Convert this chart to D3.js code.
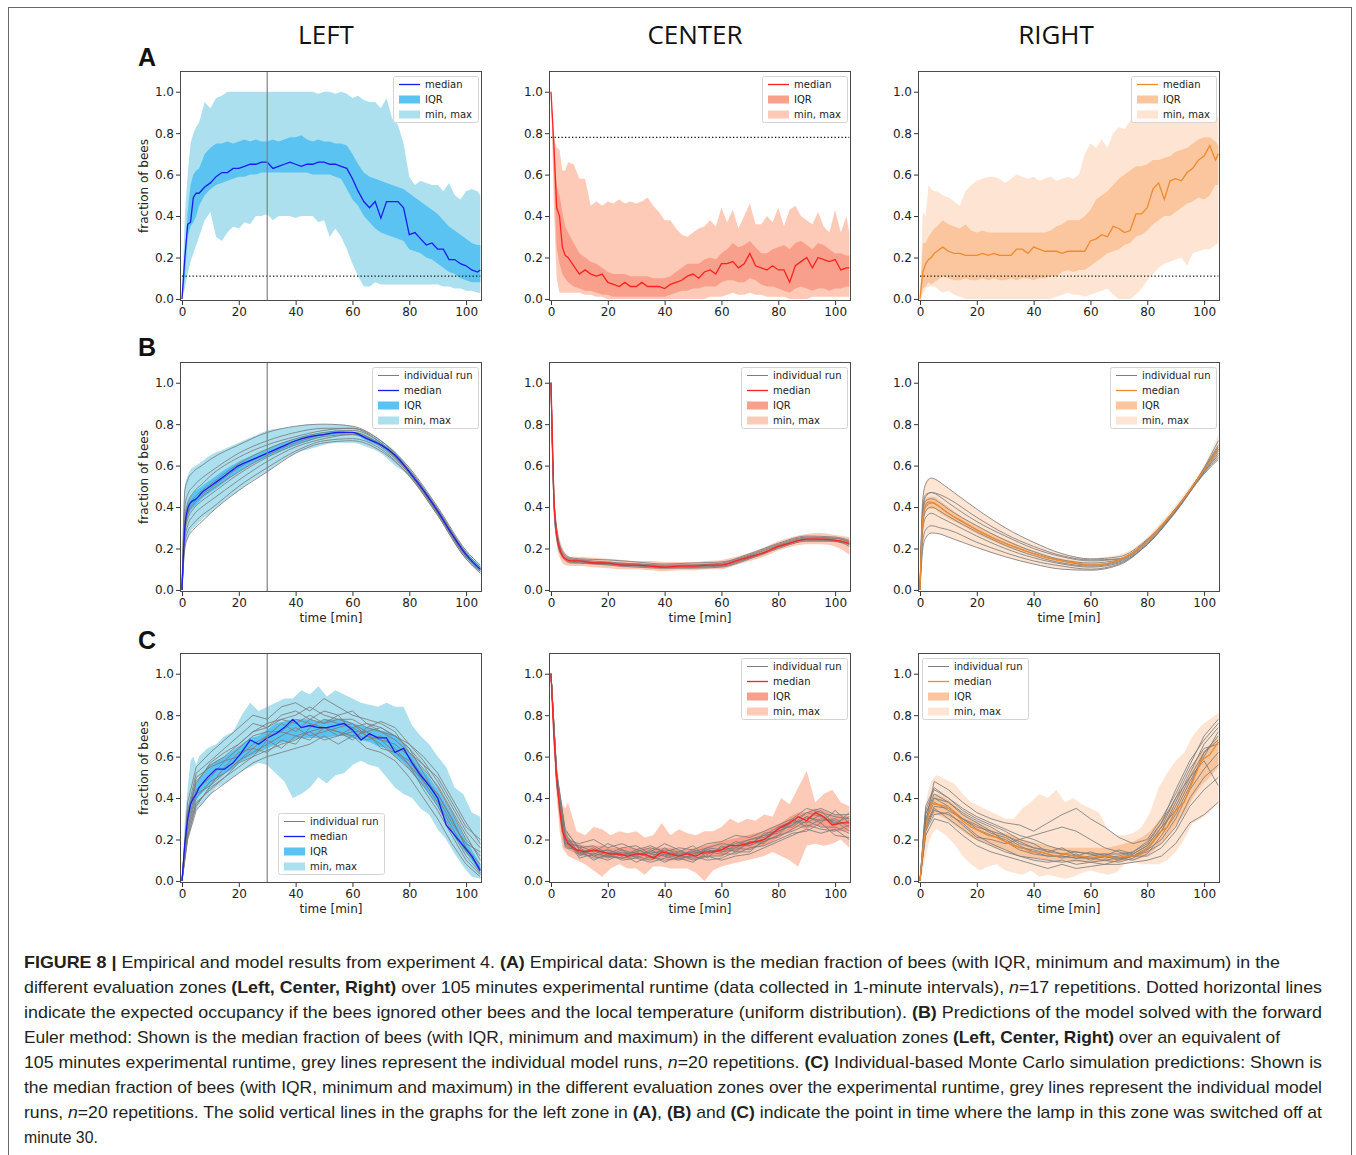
<!DOCTYPE html>
<html>
<head>
<meta charset="utf-8">
<script src="https://cdn.jsdelivr.net/npm/d3@7"></script>
<style>
  body { margin: 0; background: #fff; }
  svg text { font-family: "DejaVu Sans", sans-serif; }
</style>
</head>
<body>
<div id="fig"></div>
<script>
// ---- time grids (minutes) ----
var TA = [0, 1, 2, 3, 4, 5, 6,
  8, 10, 12, 14, 16, 18, 20, 22, 24, 26,
  28, 30, 32, 34, 36, 38, 40, 42, 44, 46,
  48, 50, 52, 54, 56, 58, 60, 62, 64, 66,
  68, 70, 72, 74, 76, 78, 80, 82, 84, 86,
  88, 90, 92, 94, 96, 98, 100, 102, 104, 105];
var TB = [0, 1, 2, 3, 5, 7, 10, 15, 20, 25, 30, 35, 40, 45, 50, 55, 60,
  65, 70, 75, 80, 85, 90, 95, 100, 105];
var TBr = [0, 1, 2, 4, 7, 10, 20, 30, 40, 50, 60, 70, 80, 90, 100, 105];
var TC = [0, 1, 2, 3, 4, 5, 6,
  9, 12, 15, 18, 21, 24, 27, 30, 33, 36,
  39, 42, 45, 48, 51, 54, 57, 60, 63, 66,
  69, 72, 75, 78, 81, 84, 87, 90, 93, 96,
  99, 102, 105];
var TCr = [0, 2, 5, 10, 15, 20, 25, 30, 35, 40, 45, 50, 55, 60, 65, 70, 75, 80, 85, 90, 95, 100, 105];

// ---- A: empirical data ----
var aLeftMed = [0, 0.20, 0.36, 0.37, 0.49, 0.51, 0.51,
  0.54, 0.56, 0.59, 0.61, 0.61, 0.63, 0.63, 0.64, 0.65, 0.65,
  0.66, 0.66, 0.63, 0.64, 0.65, 0.66, 0.65, 0.64, 0.65, 0.65,
  0.66, 0.66, 0.65, 0.65, 0.64, 0.63, 0.58, 0.52, 0.47, 0.44,
  0.47, 0.39, 0.47, 0.47, 0.47, 0.44, 0.31, 0.32, 0.29, 0.26,
  0.27, 0.24, 0.24, 0.19, 0.19, 0.17, 0.16, 0.14, 0.13, 0.14];
var aLeftQ3 = [0, 0.20, 0.42, 0.55, 0.60, 0.62, 0.63,
  0.70, 0.73, 0.75, 0.75, 0.76, 0.75, 0.76, 0.77, 0.76, 0.77,
  0.76, 0.76, 0.77, 0.76, 0.77, 0.78, 0.78, 0.79, 0.77, 0.76,
  0.77, 0.76, 0.76, 0.75, 0.75, 0.74, 0.70, 0.65, 0.61, 0.59,
  0.58, 0.57, 0.56, 0.55, 0.54, 0.53, 0.51, 0.49, 0.47, 0.45,
  0.43, 0.41, 0.38, 0.35, 0.33, 0.31, 0.29, 0.27, 0.26, 0.26];
var aLeftQ1 = [0, 0.10, 0.30, 0.35, 0.37, 0.40, 0.45,
  0.50, 0.53, 0.55, 0.56, 0.57, 0.58, 0.59, 0.59, 0.60, 0.60,
  0.61, 0.61, 0.61, 0.61, 0.61, 0.61, 0.61, 0.61, 0.61, 0.60,
  0.60, 0.60, 0.60, 0.59, 0.58, 0.53, 0.48, 0.45, 0.40, 0.37,
  0.34, 0.32, 0.31, 0.30, 0.29, 0.28, 0.24, 0.23, 0.22, 0.20,
  0.19, 0.17, 0.15, 0.13, 0.12, 0.10, 0.09, 0.08, 0.08, 0.08];
var aLeftMax = [0, 0.40, 0.60, 0.75, 0.80, 0.83, 0.85,
  0.95, 0.92, 0.97, 0.98, 1.0, 1.0, 1.0, 1.0, 1.0, 1.0,
  1.0, 1.0, 1.0, 1.0, 1.0, 1.0, 1.0, 1.0, 1.0, 1.0,
  0.99, 1.0, 1.0, 0.99, 1.0, 0.99, 0.97, 0.98, 0.96, 0.95,
  0.95, 0.92, 0.97, 0.87, 0.84, 0.75, 0.59, 0.55, 0.57, 0.56,
  0.55, 0.55, 0.52, 0.56, 0.50, 0.48, 0.52, 0.53, 0.52, 0.50];
var aLeftMin = [0, 0.05, 0.12, 0.18, 0.22, 0.26, 0.30,
  0.38, 0.42, 0.30, 0.28, 0.32, 0.35, 0.34, 0.37, 0.36, 0.40,
  0.40, 0.41, 0.38, 0.40, 0.40, 0.40, 0.39, 0.40, 0.40, 0.40,
  0.37, 0.38, 0.30, 0.34, 0.30, 0.24, 0.17, 0.11, 0.06, 0.06,
  0.08, 0.07, 0.07, 0.07, 0.07, 0.07, 0.07, 0.07, 0.07, 0.07,
  0.07, 0.07, 0.06, 0.06, 0.05, 0.05, 0.04, 0.04, 0.03, 0.03];

var aCenterMed = [1.0, 0.75, 0.44, 0.40, 0.25, 0.21, 0.20,
  0.16, 0.12, 0.14, 0.12, 0.11, 0.12, 0.08, 0.07, 0.06, 0.08,
  0.06, 0.06, 0.08, 0.06, 0.06, 0.06, 0.05, 0.07, 0.08, 0.09,
  0.11, 0.12, 0.10, 0.13, 0.14, 0.12, 0.17, 0.17, 0.18, 0.15,
  0.17, 0.22, 0.16, 0.15, 0.14, 0.16, 0.14, 0.14, 0.08, 0.16,
  0.18, 0.20, 0.15, 0.20, 0.19, 0.18, 0.19, 0.14, 0.15, 0.15];
var aCenterQ3 = [1.0, 0.75, 0.55, 0.50, 0.42, 0.35, 0.32,
  0.27, 0.22, 0.20, 0.18, 0.17, 0.15, 0.13, 0.12, 0.12, 0.12,
  0.11, 0.11, 0.11, 0.11, 0.10, 0.10, 0.10, 0.11, 0.13, 0.15,
  0.17, 0.17, 0.17, 0.19, 0.20, 0.19, 0.22, 0.24, 0.27, 0.25,
  0.26, 0.28, 0.25, 0.22, 0.22, 0.24, 0.25, 0.26, 0.24, 0.27,
  0.28, 0.26, 0.24, 0.27, 0.26, 0.24, 0.22, 0.22, 0.21, 0.21];
var aCenterQ1 = [1.0, 0.60, 0.25, 0.17, 0.12, 0.10, 0.08,
  0.06, 0.05, 0.04, 0.04, 0.03, 0.02, 0.02, 0.01, 0.01, 0.01,
  0.01, 0.01, 0.01, 0.01, 0.01, 0.01, 0.01, 0.02, 0.03, 0.04,
  0.04, 0.05, 0.05, 0.06, 0.06, 0.06, 0.08, 0.09, 0.09, 0.08,
  0.08, 0.10, 0.09, 0.07, 0.06, 0.06, 0.05, 0.04, 0.03, 0.05,
  0.06, 0.05, 0.04, 0.05, 0.05, 0.04, 0.05, 0.05, 0.06, 0.06];
var aCenterMax = [1.0, 0.78, 0.73, 0.72, 0.62, 0.62, 0.66,
  0.65, 0.58, 0.58, 0.45, 0.47, 0.45, 0.47, 0.46, 0.48, 0.46,
  0.47, 0.46, 0.47, 0.49, 0.45, 0.42, 0.38, 0.38, 0.34, 0.31,
  0.30, 0.32, 0.34, 0.35, 0.38, 0.35, 0.44, 0.37, 0.43, 0.34,
  0.40, 0.46, 0.36, 0.36, 0.40, 0.37, 0.44, 0.35, 0.43, 0.45,
  0.40, 0.38, 0.36, 0.42, 0.35, 0.32, 0.43, 0.32, 0.40, 0.32];
var aCenterMin = [1.0, 0.45, 0.10, 0.03, 0.03, 0.03, 0.03,
  0.03, 0.03, 0.02, 0.02, 0.01, 0.01, 0.00, 0.00, 0.00, 0.00,
  0.00, 0.00, 0.00, 0.00, 0.00, 0.00, 0.00, 0.00, 0.00, 0.00,
  0.00, 0.00, 0.00, 0.00, 0.01, 0.01, 0.01, 0.02, 0.03, 0.02,
  0.02, 0.03, 0.02, 0.02, 0.01, 0.01, 0.01, 0.01, 0.00, 0.00,
  0.00, 0.00, 0.01, 0.01, 0.01, 0.01, 0.01, 0.01, 0.01, 0.01];

var aRightMed = [0, 0.13, 0.17, 0.19, 0.20, 0.22, 0.23,
  0.25, 0.23, 0.22, 0.22, 0.21, 0.21, 0.21, 0.22, 0.21, 0.22,
  0.21, 0.21, 0.21, 0.24, 0.24, 0.22, 0.25, 0.24, 0.23, 0.23,
  0.23, 0.22, 0.23, 0.23, 0.23, 0.23, 0.28, 0.29, 0.31, 0.30,
  0.35, 0.34, 0.32, 0.33, 0.41, 0.41, 0.44, 0.53, 0.56, 0.48,
  0.57, 0.58, 0.57, 0.61, 0.63, 0.67, 0.69, 0.74, 0.67, 0.70];
var aRightQ3 = [0, 0.27, 0.27, 0.30, 0.32, 0.34, 0.35,
  0.38, 0.36, 0.35, 0.34, 0.36, 0.33, 0.32, 0.33, 0.32, 0.32,
  0.32, 0.32, 0.32, 0.32, 0.32, 0.32, 0.32, 0.32, 0.32, 0.33,
  0.35, 0.36, 0.38, 0.38, 0.38, 0.40, 0.43, 0.48, 0.50, 0.52,
  0.55, 0.58, 0.60, 0.62, 0.64, 0.64, 0.65, 0.67, 0.67, 0.68,
  0.69, 0.71, 0.72, 0.73, 0.75, 0.77, 0.78, 0.78, 0.76, 0.74];
var aRightQ1 = [0, 0.05, 0.06, 0.08, 0.07, 0.08, 0.09,
  0.11, 0.10, 0.09, 0.09, 0.10, 0.09, 0.09, 0.10, 0.09, 0.10,
  0.09, 0.09, 0.10, 0.09, 0.10, 0.10, 0.09, 0.10, 0.10, 0.11,
  0.11, 0.13, 0.14, 0.13, 0.14, 0.14, 0.16, 0.18, 0.20, 0.22,
  0.23, 0.24, 0.26, 0.27, 0.30, 0.31, 0.33, 0.36, 0.38, 0.40,
  0.40, 0.42, 0.44, 0.46, 0.47, 0.49, 0.48, 0.50, 0.55, 0.55];
var aRightMax = [0, 0.42, 0.40, 0.55, 0.53, 0.52, 0.52,
  0.50, 0.49, 0.47, 0.45, 0.52, 0.55, 0.57, 0.58, 0.59, 0.59,
  0.58, 0.56, 0.58, 0.60, 0.59, 0.58, 0.59, 0.57, 0.58, 0.59,
  0.57, 0.58, 0.59, 0.58, 0.60, 0.70, 0.75, 0.73, 0.77, 0.73,
  0.80, 0.83, 0.82, 0.86, 0.88, 0.90, 0.93, 0.92, 0.95, 0.94,
  0.93, 0.94, 0.92, 0.92, 0.90, 0.90, 0.88, 0.90, 0.87, 0.88];
var aRightMin = [0, 0.02, 0.05, 0.06, 0.06, 0.06, 0.05,
  0.03, 0.04, 0.02, 0.01, 0.00, 0.00, 0.00, 0.00, 0.00, 0.00,
  0.00, 0.00, 0.00, 0.00, 0.00, 0.00, 0.00, 0.00, 0.00, 0.00,
  0.01, 0.02, 0.03, 0.02, 0.02, 0.01, 0.02, 0.03, 0.04, 0.05,
  0.02, 0.00, 0.00, 0.00, 0.02, 0.05, 0.09, 0.12, 0.15, 0.17,
  0.18, 0.19, 0.20, 0.16, 0.22, 0.23, 0.24, 0.24, 0.26, 0.27];

// uniform-distribution expectation (dotted lines)
var expectedShare = [0.11, 0.78, 0.11];

// ---- B: forward Euler model ----
var bLeftMed = [0, 0.30, 0.39, 0.42, 0.44, 0.47, 0.50, 0.55, 0.60, 0.63, 0.66, 0.69, 0.72, 0.74, 0.75, 0.76, 0.76,
  0.73, 0.70, 0.65, 0.57, 0.48, 0.38, 0.27, 0.17, 0.10];
var bLeftQ3 = [0, 0.33, 0.42, 0.45, 0.48, 0.50, 0.53, 0.58, 0.62, 0.65, 0.68, 0.71, 0.73, 0.75, 0.76, 0.77, 0.76,
  0.74, 0.71, 0.66, 0.58, 0.49, 0.39, 0.28, 0.18, 0.11];
var bLeftQ1 = [0, 0.26, 0.35, 0.38, 0.41, 0.44, 0.47, 0.52, 0.57, 0.61, 0.64, 0.67, 0.70, 0.72, 0.74, 0.75, 0.75,
  0.72, 0.69, 0.64, 0.56, 0.47, 0.37, 0.26, 0.16, 0.09];
var bLeftMax = [0, 0.50, 0.55, 0.58, 0.60, 0.62, 0.65, 0.68, 0.71, 0.74, 0.77, 0.78, 0.79, 0.80, 0.80, 0.80, 0.79,
  0.76, 0.72, 0.67, 0.59, 0.50, 0.40, 0.29, 0.19, 0.12];
var bLeftMin = [0, 0.20, 0.25, 0.28, 0.31, 0.34, 0.37, 0.43, 0.48, 0.53, 0.57, 0.62, 0.66, 0.68, 0.70, 0.71, 0.71,
  0.69, 0.66, 0.60, 0.55, 0.46, 0.36, 0.25, 0.15, 0.08];
var bLeftRuns = [
  [0, 0.48, 0.53, 0.57, 0.60, 0.63, 0.70, 0.76, 0.79, 0.80, 0.79, 0.72, 0.59, 0.40, 0.19, 0.12],
  [0, 0.40, 0.46, 0.50, 0.54, 0.57, 0.66, 0.72, 0.76, 0.78, 0.78, 0.71, 0.58, 0.39, 0.18, 0.11],
  [0, 0.35, 0.42, 0.47, 0.51, 0.55, 0.64, 0.70, 0.74, 0.77, 0.78, 0.72, 0.58, 0.39, 0.18, 0.11],
  [0, 0.33, 0.40, 0.44, 0.48, 0.51, 0.61, 0.68, 0.73, 0.76, 0.77, 0.71, 0.57, 0.38, 0.17, 0.10],
  [0, 0.30, 0.37, 0.42, 0.46, 0.49, 0.59, 0.66, 0.72, 0.75, 0.76, 0.70, 0.57, 0.38, 0.17, 0.10],
  [0, 0.28, 0.36, 0.41, 0.45, 0.48, 0.57, 0.65, 0.71, 0.75, 0.76, 0.70, 0.57, 0.37, 0.17, 0.10],
  [0, 0.27, 0.34, 0.39, 0.43, 0.46, 0.56, 0.64, 0.70, 0.74, 0.75, 0.70, 0.56, 0.37, 0.16, 0.10],
  [0, 0.25, 0.31, 0.36, 0.40, 0.43, 0.53, 0.62, 0.69, 0.73, 0.75, 0.69, 0.56, 0.37, 0.16, 0.09],
  [0, 0.22, 0.28, 0.32, 0.36, 0.39, 0.50, 0.59, 0.67, 0.72, 0.73, 0.68, 0.55, 0.36, 0.15, 0.09],
  [0, 0.20, 0.25, 0.29, 0.33, 0.37, 0.48, 0.57, 0.66, 0.71, 0.72, 0.67, 0.55, 0.36, 0.15, 0.08]
];

var bCenterMed = [1.0, 0.45, 0.27, 0.20, 0.15, 0.14, 0.14, 0.13, 0.13, 0.12, 0.12, 0.115, 0.11, 0.115, 0.115, 0.12, 0.12,
  0.14, 0.16, 0.18, 0.21, 0.23, 0.245, 0.245, 0.24, 0.225];
var bCenterQ3 = [1.0, 0.47, 0.29, 0.22, 0.16, 0.15, 0.15, 0.14, 0.135, 0.13, 0.13, 0.125, 0.12, 0.125, 0.125, 0.13, 0.13,
  0.15, 0.17, 0.19, 0.22, 0.24, 0.255, 0.255, 0.25, 0.235];
var bCenterQ1 = [1.0, 0.43, 0.25, 0.18, 0.14, 0.13, 0.13, 0.12, 0.12, 0.11, 0.11, 0.105, 0.10, 0.105, 0.105, 0.11, 0.11,
  0.13, 0.15, 0.17, 0.20, 0.22, 0.235, 0.235, 0.23, 0.215];
var bCenterMax = [1.0, 0.50, 0.32, 0.25, 0.18, 0.16, 0.16, 0.155, 0.15, 0.145, 0.14, 0.14, 0.135, 0.135, 0.135, 0.14, 0.145,
  0.16, 0.18, 0.205, 0.235, 0.255, 0.27, 0.275, 0.265, 0.255];
var bCenterMin = [1.0, 0.40, 0.22, 0.16, 0.12, 0.115, 0.115, 0.11, 0.105, 0.10, 0.10, 0.095, 0.09, 0.095, 0.095, 0.10, 0.10,
  0.12, 0.14, 0.16, 0.19, 0.21, 0.22, 0.22, 0.21, 0.17];
var bCenterRuns = [
  [1.0, 0.48, 0.30, 0.19, 0.155, 0.15, 0.145, 0.135, 0.125, 0.13, 0.135, 0.175, 0.225, 0.26, 0.255, 0.24],
  [1.0, 0.46, 0.28, 0.18, 0.15, 0.145, 0.135, 0.125, 0.115, 0.12, 0.125, 0.165, 0.215, 0.25, 0.25, 0.235],
  [1.0, 0.44, 0.26, 0.17, 0.14, 0.135, 0.125, 0.12, 0.11, 0.11, 0.12, 0.155, 0.205, 0.24, 0.24, 0.22],
  [1.0, 0.42, 0.25, 0.16, 0.13, 0.13, 0.12, 0.11, 0.105, 0.105, 0.11, 0.15, 0.20, 0.235, 0.235, 0.21],
  [1.0, 0.47, 0.29, 0.18, 0.145, 0.14, 0.13, 0.125, 0.12, 0.12, 0.13, 0.17, 0.22, 0.255, 0.25, 0.23],
  [1.0, 0.43, 0.25, 0.165, 0.135, 0.13, 0.125, 0.115, 0.11, 0.11, 0.115, 0.155, 0.21, 0.245, 0.235, 0.22]
];

var bRightMed = [0, 0.35, 0.41, 0.425, 0.42, 0.40, 0.37, 0.33, 0.29, 0.255, 0.225, 0.20, 0.175, 0.155, 0.14, 0.13, 0.12,
  0.125, 0.145, 0.18, 0.235, 0.31, 0.39, 0.48, 0.58, 0.68];
var bRightQ3 = [0, 0.38, 0.44, 0.45, 0.45, 0.43, 0.40, 0.35, 0.31, 0.275, 0.245, 0.215, 0.19, 0.165, 0.15, 0.14, 0.13,
  0.13, 0.15, 0.185, 0.24, 0.315, 0.395, 0.485, 0.585, 0.69];
var bRightQ1 = [0, 0.31, 0.37, 0.39, 0.39, 0.37, 0.345, 0.31, 0.27, 0.24, 0.21, 0.185, 0.165, 0.145, 0.13, 0.12, 0.115,
  0.12, 0.14, 0.175, 0.23, 0.305, 0.385, 0.475, 0.575, 0.67];
var bRightMax = [0, 0.45, 0.52, 0.54, 0.54, 0.52, 0.49, 0.44, 0.39, 0.34, 0.30, 0.26, 0.23, 0.20, 0.175, 0.16, 0.15,
  0.16, 0.17, 0.20, 0.255, 0.33, 0.41, 0.50, 0.60, 0.75];
var bRightMin = [0, 0.20, 0.25, 0.27, 0.275, 0.27, 0.255, 0.23, 0.205, 0.18, 0.16, 0.14, 0.125, 0.11, 0.10, 0.095, 0.095,
  0.10, 0.125, 0.165, 0.22, 0.295, 0.375, 0.465, 0.56, 0.63];
var bRightRuns = [
  [0, 0.44, 0.51, 0.54, 0.52, 0.49, 0.39, 0.30, 0.23, 0.175, 0.15, 0.16, 0.245, 0.395, 0.59, 0.72],
  [0, 0.40, 0.46, 0.47, 0.45, 0.42, 0.33, 0.26, 0.20, 0.16, 0.14, 0.15, 0.24, 0.39, 0.585, 0.70],
  [0, 0.38, 0.45, 0.47, 0.46, 0.44, 0.35, 0.27, 0.21, 0.165, 0.145, 0.15, 0.24, 0.39, 0.585, 0.69],
  [0, 0.37, 0.43, 0.44, 0.42, 0.39, 0.31, 0.24, 0.185, 0.145, 0.13, 0.145, 0.235, 0.39, 0.58, 0.68],
  [0, 0.34, 0.40, 0.42, 0.40, 0.37, 0.29, 0.225, 0.175, 0.14, 0.12, 0.14, 0.23, 0.385, 0.575, 0.67],
  [0, 0.32, 0.38, 0.40, 0.38, 0.355, 0.28, 0.215, 0.165, 0.13, 0.115, 0.135, 0.225, 0.38, 0.57, 0.66],
  [0, 0.29, 0.35, 0.37, 0.35, 0.33, 0.26, 0.20, 0.155, 0.125, 0.11, 0.13, 0.22, 0.38, 0.57, 0.65],
  [0, 0.24, 0.29, 0.31, 0.30, 0.29, 0.23, 0.18, 0.14, 0.115, 0.10, 0.125, 0.22, 0.375, 0.565, 0.64],
  [0, 0.20, 0.25, 0.275, 0.27, 0.255, 0.205, 0.16, 0.125, 0.10, 0.095, 0.12, 0.22, 0.38, 0.56, 0.63]
];

// ---- C: Monte Carlo simulation ----
var cLeftMed = [0, 0.18, 0.30, 0.37, 0.40, 0.42, 0.45,
  0.50, 0.54, 0.54, 0.57, 0.62, 0.68, 0.66, 0.69, 0.71, 0.74,
  0.78, 0.74, 0.75, 0.74, 0.74, 0.75, 0.76, 0.73, 0.68, 0.71,
  0.69, 0.69, 0.62, 0.64, 0.57, 0.51, 0.46, 0.40, 0.27, 0.22,
  0.17, 0.12, 0.05];
var cLeftQ3 = [0, 0.20, 0.33, 0.40, 0.43, 0.46, 0.49,
  0.55, 0.58, 0.60, 0.63, 0.66, 0.69, 0.70, 0.73, 0.76, 0.77,
  0.78, 0.78, 0.78, 0.77, 0.78, 0.78, 0.78, 0.76, 0.75, 0.74,
  0.73, 0.72, 0.70, 0.66, 0.60, 0.55, 0.50, 0.44, 0.37, 0.30,
  0.22, 0.15, 0.08];
var cLeftQ1 = [0, 0.15, 0.27, 0.33, 0.36, 0.39, 0.41,
  0.45, 0.49, 0.52, 0.54, 0.58, 0.60, 0.62, 0.64, 0.66, 0.67,
  0.68, 0.69, 0.69, 0.69, 0.69, 0.70, 0.70, 0.69, 0.68, 0.67,
  0.65, 0.64, 0.60, 0.57, 0.52, 0.47, 0.42, 0.36, 0.29, 0.21,
  0.15, 0.10, 0.03];
var cLeftMax = [0, 0.30, 0.45, 0.58, 0.60, 0.56, 0.60,
  0.64, 0.66, 0.70, 0.72, 0.80, 0.86, 0.82, 0.84, 0.86, 0.88,
  0.88, 0.92, 0.90, 0.94, 0.89, 0.92, 0.90, 0.88, 0.86, 0.85,
  0.84, 0.86, 0.84, 0.84, 0.75, 0.70, 0.66, 0.60, 0.55, 0.45,
  0.42, 0.33, 0.31];
var cLeftMin = [0, 0.10, 0.20, 0.28, 0.32, 0.34, 0.36,
  0.40, 0.45, 0.47, 0.50, 0.53, 0.55, 0.57, 0.56, 0.52, 0.48,
  0.40, 0.42, 0.45, 0.50, 0.47, 0.51, 0.52, 0.56, 0.58, 0.56,
  0.55, 0.50, 0.45, 0.42, 0.40, 0.35, 0.32, 0.25, 0.20, 0.13,
  0.07, 0.02, 0.01];
var cLeftRuns = [
  [0, 0.38, 0.55, 0.62, 0.68, 0.74, 0.80, 0.78, 0.84, 0.86, 0.82, 0.88, 0.84, 0.80, 0.78, 0.76, 0.72, 0.62, 0.56, 0.45, 0.33, 0.20, 0.12],
  [0, 0.33, 0.47, 0.57, 0.62, 0.66, 0.72, 0.76, 0.78, 0.80, 0.84, 0.80, 0.78, 0.78, 0.74, 0.77, 0.74, 0.66, 0.60, 0.52, 0.40, 0.28, 0.18],
  [0, 0.28, 0.44, 0.50, 0.58, 0.60, 0.66, 0.70, 0.76, 0.72, 0.78, 0.76, 0.80, 0.72, 0.72, 0.68, 0.66, 0.60, 0.50, 0.42, 0.30, 0.16, 0.08],
  [0, 0.25, 0.40, 0.48, 0.52, 0.58, 0.62, 0.66, 0.70, 0.74, 0.70, 0.72, 0.74, 0.76, 0.70, 0.66, 0.60, 0.54, 0.46, 0.36, 0.24, 0.12, 0.04],
  [0, 0.22, 0.37, 0.45, 0.50, 0.55, 0.60, 0.63, 0.66, 0.68, 0.72, 0.68, 0.70, 0.72, 0.68, 0.70, 0.64, 0.56, 0.44, 0.34, 0.22, 0.10, 0.03],
  [0, 0.20, 0.34, 0.42, 0.47, 0.52, 0.57, 0.60, 0.62, 0.64, 0.66, 0.70, 0.66, 0.70, 0.64, 0.62, 0.58, 0.50, 0.40, 0.30, 0.18, 0.08, 0.02],
  [0, 0.30, 0.50, 0.55, 0.58, 0.64, 0.70, 0.72, 0.72, 0.78, 0.76, 0.74, 0.72, 0.68, 0.74, 0.72, 0.68, 0.62, 0.54, 0.46, 0.34, 0.22, 0.10],
  [0, 0.26, 0.42, 0.46, 0.55, 0.62, 0.64, 0.62, 0.68, 0.66, 0.74, 0.78, 0.76, 0.74, 0.76, 0.72, 0.70, 0.64, 0.52, 0.40, 0.28, 0.18, 0.14],
  [0, 0.32, 0.48, 0.56, 0.60, 0.66, 0.72, 0.74, 0.80, 0.82, 0.78, 0.82, 0.80, 0.82, 0.76, 0.74, 0.70, 0.66, 0.58, 0.48, 0.36, 0.24, 0.16],
  [0, 0.24, 0.38, 0.44, 0.50, 0.57, 0.60, 0.68, 0.64, 0.70, 0.68, 0.74, 0.72, 0.70, 0.72, 0.64, 0.62, 0.58, 0.48, 0.38, 0.26, 0.14, 0.06],
  [0, 0.34, 0.52, 0.58, 0.64, 0.70, 0.76, 0.74, 0.78, 0.76, 0.80, 0.76, 0.78, 0.76, 0.72, 0.74, 0.70, 0.64, 0.56, 0.50, 0.38, 0.26, 0.20],
  [0, 0.21, 0.36, 0.46, 0.52, 0.58, 0.64, 0.70, 0.72, 0.70, 0.72, 0.74, 0.70, 0.74, 0.70, 0.68, 0.62, 0.56, 0.48, 0.42, 0.30, 0.16, 0.06]
];

var cCenterMed = [1.0, 0.70, 0.50, 0.35, 0.24, 0.21, 0.18,
  0.15, 0.14, 0.15, 0.14, 0.13, 0.13, 0.12, 0.13, 0.13, 0.11,
  0.14, 0.13, 0.12, 0.13, 0.12, 0.14, 0.14, 0.15, 0.17, 0.17,
  0.18, 0.19, 0.20, 0.23, 0.26, 0.28, 0.31, 0.29, 0.33, 0.31,
  0.27, 0.28, 0.28];
var cCenterQ3 = [1.0, 0.72, 0.53, 0.38, 0.28, 0.24, 0.21,
  0.18, 0.17, 0.17, 0.17, 0.16, 0.16, 0.16, 0.16, 0.16, 0.16,
  0.16, 0.16, 0.15, 0.15, 0.16, 0.17, 0.18, 0.19, 0.20, 0.21,
  0.22, 0.23, 0.24, 0.26, 0.28, 0.31, 0.33, 0.33, 0.35, 0.34,
  0.32, 0.32, 0.31];
var cCenterQ1 = [1.0, 0.66, 0.45, 0.30, 0.20, 0.17, 0.15,
  0.13, 0.12, 0.12, 0.11, 0.11, 0.11, 0.10, 0.11, 0.10, 0.10,
  0.11, 0.10, 0.10, 0.10, 0.10, 0.11, 0.12, 0.12, 0.14, 0.14,
  0.15, 0.16, 0.17, 0.19, 0.22, 0.24, 0.26, 0.25, 0.27, 0.26,
  0.24, 0.24, 0.24];
var cCenterMax = [1.0, 0.75, 0.58, 0.45, 0.37, 0.35, 0.38,
  0.24, 0.22, 0.26, 0.25, 0.22, 0.24, 0.23, 0.24, 0.21, 0.22,
  0.28, 0.22, 0.25, 0.23, 0.22, 0.24, 0.24, 0.26, 0.30, 0.28,
  0.30, 0.29, 0.32, 0.31, 0.40, 0.37, 0.45, 0.53, 0.38, 0.42,
  0.44, 0.38, 0.36];
var cCenterMin = [1.0, 0.62, 0.40, 0.25, 0.16, 0.14, 0.12,
  0.10, 0.08, 0.05, 0.02, 0.06, 0.08, 0.06, 0.06, 0.03, 0.07,
  0.07, 0.06, 0.06, 0.06, 0.04, 0.00, 0.05, 0.07, 0.08, 0.09,
  0.10, 0.11, 0.12, 0.14, 0.12, 0.10, 0.07, 0.17, 0.18, 0.17,
  0.18, 0.20, 0.16];
var cCenterRuns = [
  [1.0, 0.52, 0.20, 0.18, 0.20, 0.16, 0.18, 0.15, 0.17, 0.14, 0.16, 0.15, 0.18, 0.19, 0.22, 0.21, 0.24, 0.27, 0.30, 0.35, 0.33, 0.31, 0.30],
  [1.0, 0.48, 0.17, 0.14, 0.13, 0.15, 0.12, 0.14, 0.11, 0.16, 0.12, 0.14, 0.13, 0.16, 0.18, 0.20, 0.21, 0.25, 0.28, 0.30, 0.34, 0.27, 0.33],
  [1.0, 0.50, 0.22, 0.12, 0.15, 0.11, 0.14, 0.12, 0.15, 0.12, 0.10, 0.13, 0.15, 0.14, 0.15, 0.18, 0.22, 0.23, 0.30, 0.26, 0.30, 0.29, 0.24],
  [1.0, 0.47, 0.16, 0.15, 0.10, 0.13, 0.10, 0.11, 0.09, 0.11, 0.13, 0.10, 0.12, 0.12, 0.16, 0.15, 0.19, 0.22, 0.24, 0.27, 0.25, 0.24, 0.27],
  [1.0, 0.53, 0.24, 0.16, 0.17, 0.13, 0.16, 0.17, 0.13, 0.15, 0.14, 0.17, 0.11, 0.17, 0.14, 0.19, 0.18, 0.26, 0.26, 0.31, 0.28, 0.34, 0.28],
  [1.0, 0.49, 0.19, 0.13, 0.12, 0.10, 0.13, 0.09, 0.12, 0.10, 0.11, 0.09, 0.14, 0.13, 0.13, 0.16, 0.17, 0.20, 0.23, 0.24, 0.28, 0.22, 0.21],
  [1.0, 0.51, 0.18, 0.17, 0.14, 0.18, 0.15, 0.13, 0.14, 0.18, 0.15, 0.12, 0.16, 0.15, 0.19, 0.17, 0.23, 0.24, 0.27, 0.33, 0.31, 0.28, 0.31],
  [1.0, 0.50, 0.21, 0.11, 0.13, 0.12, 0.11, 0.12, 0.10, 0.13, 0.11, 0.12, 0.10, 0.11, 0.14, 0.14, 0.20, 0.21, 0.25, 0.29, 0.26, 0.26, 0.23],
  [1.0, 0.49, 0.20, 0.16, 0.12, 0.14, 0.12, 0.15, 0.13, 0.12, 0.14, 0.13, 0.15, 0.14, 0.17, 0.17, 0.20, 0.24, 0.27, 0.31, 0.29, 0.30, 0.26],
  [1.0, 0.52, 0.23, 0.13, 0.16, 0.12, 0.15, 0.11, 0.14, 0.13, 0.12, 0.15, 0.13, 0.15, 0.16, 0.19, 0.19, 0.22, 0.29, 0.28, 0.32, 0.27, 0.29],
  [1.0, 0.46, 0.18, 0.14, 0.11, 0.12, 0.11, 0.13, 0.12, 0.09, 0.12, 0.11, 0.12, 0.10, 0.12, 0.13, 0.16, 0.19, 0.22, 0.25, 0.23, 0.25, 0.20],
  [1.0, 0.51, 0.25, 0.15, 0.14, 0.15, 0.13, 0.14, 0.16, 0.14, 0.13, 0.14, 0.16, 0.18, 0.17, 0.20, 0.22, 0.26, 0.29, 0.33, 0.35, 0.32, 0.32]
];

var cRightMed = [0, 0.15, 0.25, 0.32, 0.38, 0.37, 0.37,
  0.36, 0.33, 0.29, 0.26, 0.24, 0.22, 0.21, 0.19, 0.17, 0.16,
  0.14, 0.14, 0.13, 0.12, 0.13, 0.12, 0.12, 0.11, 0.12, 0.12,
  0.11, 0.12, 0.12, 0.13, 0.17, 0.23, 0.26, 0.34, 0.38, 0.48,
  0.58, 0.61, 0.67];
var cRightQ3 = [0, 0.20, 0.30, 0.37, 0.41, 0.42, 0.42,
  0.40, 0.37, 0.33, 0.30, 0.28, 0.26, 0.24, 0.23, 0.22, 0.20,
  0.19, 0.18, 0.17, 0.16, 0.16, 0.16, 0.16, 0.16, 0.16, 0.16,
  0.17, 0.18, 0.19, 0.21, 0.24, 0.29, 0.33, 0.40, 0.45, 0.55,
  0.62, 0.65, 0.70];
var cRightQ1 = [0, 0.10, 0.20, 0.27, 0.31, 0.32, 0.32,
  0.30, 0.27, 0.24, 0.21, 0.19, 0.18, 0.16, 0.15, 0.13, 0.12,
  0.11, 0.11, 0.10, 0.10, 0.10, 0.09, 0.09, 0.09, 0.09, 0.09,
  0.09, 0.10, 0.10, 0.11, 0.13, 0.17, 0.21, 0.27, 0.32, 0.40,
  0.46, 0.50, 0.55];
var cRightMax = [0, 0.25, 0.37, 0.44, 0.48, 0.50, 0.51,
  0.49, 0.47, 0.42, 0.38, 0.36, 0.34, 0.32, 0.30, 0.30, 0.35,
  0.38, 0.42, 0.40, 0.44, 0.38, 0.40, 0.37, 0.35, 0.33, 0.25,
  0.22, 0.22, 0.23, 0.26, 0.33, 0.45, 0.52, 0.58, 0.62, 0.70,
  0.75, 0.78, 0.81];
var cRightMin = [0, 0.05, 0.12, 0.18, 0.22, 0.24, 0.25,
  0.22, 0.18, 0.12, 0.08, 0.05, 0.07, 0.08, 0.05, 0.04, 0.03,
  0.05, 0.02, 0.03, 0.02, 0.01, 0.02, 0.04, 0.05, 0.04, 0.03,
  0.04, 0.08, 0.09, 0.08, 0.08, 0.08, 0.10, 0.14, 0.20, 0.28,
  0.30, 0.33, 0.38];
var cRightRuns = [
  [0, 0.36, 0.45, 0.40, 0.34, 0.30, 0.27, 0.24, 0.20, 0.18, 0.14, 0.16, 0.12, 0.14, 0.12, 0.15, 0.13, 0.17, 0.26, 0.34, 0.48, 0.60, 0.72],
  [0, 0.30, 0.40, 0.36, 0.30, 0.25, 0.22, 0.20, 0.16, 0.15, 0.13, 0.11, 0.13, 0.10, 0.12, 0.10, 0.12, 0.16, 0.24, 0.38, 0.52, 0.66, 0.74],
  [0, 0.25, 0.34, 0.32, 0.28, 0.22, 0.18, 0.15, 0.12, 0.10, 0.09, 0.10, 0.08, 0.09, 0.10, 0.09, 0.11, 0.15, 0.20, 0.30, 0.44, 0.54, 0.62],
  [0, 0.28, 0.48, 0.44, 0.38, 0.33, 0.30, 0.28, 0.27, 0.24, 0.28, 0.32, 0.35, 0.30, 0.26, 0.21, 0.18, 0.20, 0.30, 0.42, 0.56, 0.70, 0.78],
  [0, 0.22, 0.30, 0.28, 0.22, 0.17, 0.14, 0.12, 0.10, 0.08, 0.06, 0.08, 0.06, 0.07, 0.08, 0.08, 0.09, 0.10, 0.12, 0.18, 0.28, 0.32, 0.38],
  [0, 0.32, 0.42, 0.38, 0.32, 0.28, 0.24, 0.22, 0.18, 0.16, 0.15, 0.13, 0.14, 0.13, 0.11, 0.12, 0.14, 0.18, 0.28, 0.40, 0.50, 0.58, 0.46],
  [0, 0.27, 0.36, 0.35, 0.30, 0.26, 0.24, 0.19, 0.15, 0.13, 0.12, 0.12, 0.11, 0.12, 0.13, 0.11, 0.10, 0.13, 0.22, 0.32, 0.46, 0.62, 0.68],
  [0, 0.24, 0.32, 0.33, 0.27, 0.21, 0.20, 0.18, 0.20, 0.22, 0.24, 0.26, 0.24, 0.20, 0.16, 0.14, 0.12, 0.14, 0.18, 0.26, 0.40, 0.50, 0.56],
  [0, 0.33, 0.40, 0.38, 0.33, 0.29, 0.26, 0.22, 0.19, 0.16, 0.14, 0.13, 0.12, 0.11, 0.12, 0.11, 0.12, 0.15, 0.24, 0.36, 0.50, 0.62, 0.70],
  [0, 0.29, 0.38, 0.34, 0.30, 0.27, 0.23, 0.21, 0.17, 0.14, 0.12, 0.12, 0.11, 0.11, 0.10, 0.11, 0.13, 0.17, 0.26, 0.40, 0.54, 0.64, 0.66],
  [0, 0.26, 0.35, 0.30, 0.25, 0.20, 0.17, 0.14, 0.12, 0.11, 0.10, 0.09, 0.10, 0.09, 0.08, 0.10, 0.12, 0.12, 0.16, 0.24, 0.36, 0.44, 0.50],
  [0, 0.34, 0.44, 0.40, 0.35, 0.31, 0.28, 0.25, 0.22, 0.20, 0.17, 0.15, 0.14, 0.13, 0.13, 0.13, 0.14, 0.19, 0.28, 0.44, 0.58, 0.68, 0.76]
];

var colTitles = ["LEFT", "CENTER", "RIGHT"];
var rowLetters = ["A", "B", "C"];
var xTicks = [0, 20, 40, 60, 80, 100];
var yTicks = [0, 0.2, 0.4, 0.6, 0.8, 1.0];
var lampOff = 30;

var captionLines = [
  [["FIGURE 8 |", "b"], [" Empirical and model results from experiment 4. "], ["(A)", "b"], [" Empirical data: Shown is the median fraction of bees (with IQR, minimum and maximum) in the"]],
  [["different evaluation zones "], ["(Left, Center, Right)", "b"], [" over 105 minutes experimental runtime (data collected in 1-minute intervals), "], ["n", "i"], ["=17 repetitions. Dotted horizontal lines"]],
  [["indicate the expected occupancy if the bees ignored other bees and the local temperature (uniform distribution). "], ["(B)", "b"], [" Predictions of the model solved with the forward"]],
  [["Euler method: Shown is the median fraction of bees (with IQR, minimum and maximum) in the different evaluation zones "], ["(Left, Center, Right)", "b"], [" over an equivalent of"]],
  [["105 minutes experimental runtime, grey lines represent the individual model runs, "], ["n", "i"], ["=20 repetitions. "], ["(C)", "b"], [" Individual-based Monte Carlo simulation predictions: Shown is"]],
  [["the median fraction of bees (with IQR, minimum and maximum) in the different evaluation zones over the experimental runtime, grey lines represent the individual model"]],
  [["runs, "], ["n", "i"], ["=20 repetitions. The solid vertical lines in the graphs for the left zone in "], ["(A)", "b"], [", "], ["(B)", "b"], [" and "], ["(C)", "b"], [" indicate the point in time where the lamp in this zone was switched off at"]],
  [["minute 30."]]
];
var captionRight = [1280, 1322, 1322, 1280, 1322, 1322, 1322, 0];

// ---- layout ----
var width = 1356, height = 1155;
var colX = [180, 549, 918], rowY = [71, 362, 653];
var pw = 302, ph = 230;

var palettes = {
  blue:   { line: "#1a1af2", iqr: "#5ac3f1", mm: "#ade0ef" },
  red:    { line: "#ff2020", iqr: "#f9a08c", mm: "#fdcab7" },
  orange: { line: "#f08a2c", iqr: "#fbc59e", mm: "#fee5d3" }
};

var panels = [
  { row: 0, col: 0, pal: "blue",   t: TA, med: aLeftMed,   q1: aLeftQ1,   q3: aLeftQ3,   lo: aLeftMin,   hi: aLeftMax,   lamp: true, legend: "tr" },
  { row: 0, col: 1, pal: "red",    t: TA, med: aCenterMed, q1: aCenterQ1, q3: aCenterQ3, lo: aCenterMin, hi: aCenterMax, legend: "tr" },
  { row: 0, col: 2, pal: "orange", t: TA, med: aRightMed,  q1: aRightQ1,  q3: aRightQ3,  lo: aRightMin,  hi: aRightMax,  legend: "tr" },
  { row: 1, col: 0, pal: "blue",   t: TB, med: bLeftMed,   q1: bLeftQ1,   q3: bLeftQ3,   lo: bLeftMin,   hi: bLeftMax,   rt: TBr, runs: bLeftRuns,   smooth: true, lamp: true, legend: "tr" },
  { row: 1, col: 1, pal: "red",    t: TB, med: bCenterMed, q1: bCenterQ1, q3: bCenterQ3, lo: bCenterMin, hi: bCenterMax, rt: TBr, runs: bCenterRuns, smooth: true, legend: "tr" },
  { row: 1, col: 2, pal: "orange", t: TB, med: bRightMed,  q1: bRightQ1,  q3: bRightQ3,  lo: bRightMin,  hi: bRightMax,  rt: TBr, runs: bRightRuns,  smooth: true, legend: "tr" },
  { row: 2, col: 0, pal: "blue",   t: TC, med: cLeftMed,   q1: cLeftQ1,   q3: cLeftQ3,   lo: cLeftMin,   hi: cLeftMax,   rt: TCr, runs: cLeftRuns,   lamp: true, legend: "lc" },
  { row: 2, col: 1, pal: "red",    t: TC, med: cCenterMed, q1: cCenterQ1, q3: cCenterQ3, lo: cCenterMin, hi: cCenterMax, rt: TCr, runs: cCenterRuns, legend: "tr" },
  { row: 2, col: 2, pal: "orange", t: TC, med: cRightMed,  q1: cRightQ1,  q3: cRightQ3,  lo: cRightMin,  hi: cRightMax,  rt: TCr, runs: cRightRuns,  legend: "tl" }
];

var svg = d3.select("#fig").append("svg")
  .attr("width", width)
  .attr("height", height);

svg.append("rect")
  .attr("x", 8.5).attr("y", 7.5)
  .attr("width", 1343).attr("height", 1170)
  .attr("fill", "none")
  .attr("stroke", "#6a6a6a");

// column titles and row letters
svg.selectAll(".col-title")
  .data(colTitles)
  .enter().append("text")
  .attr("class", "col-title")
  .attr("x", function(d, i) { return [326, 695, 1056][i]; })
  .attr("y", 44)
  .attr("text-anchor", "middle")
  .style("font-family", "'Open Sans', sans-serif")
  .style("font-size", "26px")
  .attr("fill", "#111")
  .text(function(d) { return d; });

svg.selectAll(".row-letter")
  .data(rowLetters)
  .enter().append("text")
  .attr("class", "row-letter")
  .attr("x", 138)
  .attr("y", function(d, i) { return [66, 356, 649][i]; })
  .style("font-family", "'Liberation Sans', Arial, sans-serif")
  .style("font-size", "25px")
  .style("font-weight", "bold")
  .attr("fill", "#111")
  .text(function(d) { return d; });

var defs = svg.append("defs");

panels.forEach(function(p, k) {
  [p.med, p.q1, p.q3, p.lo, p.hi].forEach(function(s) {
    if (s.length !== p.t.length) throw new Error("length mismatch in panel " + k);
  });
  (p.runs || []).forEach(function(r) {
    if (r.length !== p.rt.length) throw new Error("run length mismatch in panel " + k);
  });

  var x0 = colX[p.col], y0 = rowY[p.row];
  var pal = palettes[p.pal];
  var x = d3.scaleLinear().domain([-0.7, 105.6]).range([x0, x0 + pw]);
  var y = d3.scaleLinear().domain([-0.01, 1.1]).range([y0 + ph, y0]);
  var curve = p.smooth ? d3.curveMonotoneX : d3.curveLinear;

  defs.append("clipPath").attr("id", "clip" + k)
    .append("rect").attr("x", x0).attr("y", y0).attr("width", pw).attr("height", ph);

  var g = svg.append("g").attr("clip-path", "url(#clip" + k + ")");

  var band = function(lo, hi) {
    return d3.area()
      .x(function(d, i) { return x(p.t[i]); })
      .y0(function(d, i) { return y(lo[i]); })
      .y1(function(d, i) { return y(hi[i]); })
      .curve(curve);
  };

  g.append("path").datum(p.t)
    .attr("d", band(p.lo, p.hi))
    .attr("fill", pal.mm);

  g.append("path").datum(p.t)
    .attr("d", band(p.q1, p.q3))
    .attr("fill", pal.iqr);

  if (p.runs) {
    var runLine = d3.line()
      .x(function(d, i) { return x(p.rt[i]); })
      .y(function(d) { return y(d); })
      .curve(curve);
    g.selectAll(".run")
      .data(p.runs)
      .enter().append("path")
      .attr("class", "run")
      .attr("d", runLine)
      .attr("fill", "none")
      .attr("stroke", "#7d7d7d")
      .attr("stroke-opacity", 0.85)
      .attr("stroke-width", 1);
  }

  var medLine = d3.line()
    .x(function(d, i) { return x(p.t[i]); })
    .y(function(d) { return y(d); })
    .curve(curve);
  g.append("path").datum(p.med)
    .attr("d", medLine)
    .attr("fill", "none")
    .attr("stroke", pal.line)
    .attr("stroke-width", 1.3);

  // expected occupancy (only for the empirical row)
  if (p.row === 0) {
    g.append("line")
      .attr("x1", x(0)).attr("x2", x(105))
      .attr("y1", y(expectedShare[p.col])).attr("y2", y(expectedShare[p.col]))
      .attr("stroke", "#111")
      .attr("stroke-width", 1.3)
      .attr("stroke-dasharray", "1.3,2.2");
  }

  if (p.lamp) {
    g.append("line")
      .attr("x1", x(lampOff)).attr("x2", x(lampOff))
      .attr("y1", y0).attr("y2", y0 + ph)
      .attr("stroke", "#808080")
      .attr("stroke-width", 1.2);
  }

  // frame
  svg.append("rect")
    .attr("x", x0 + 0.5).attr("y", y0 + 0.5)
    .attr("width", pw - 1).attr("height", ph - 1)
    .attr("fill", "none")
    .attr("stroke", "#4a4a4a")
    .attr("stroke-width", 1);

  // axes
  var xAxis = svg.append("g")
    .attr("transform", "translate(0," + (y0 + ph) + ")")
    .call(d3.axisBottom(x).tickValues(xTicks).tickSize(4).tickPadding(2));
  var yAxis = svg.append("g")
    .attr("transform", "translate(" + x0 + ",0)")
    .call(d3.axisLeft(y).tickValues(yTicks).tickSize(4).tickPadding(2).tickFormat(d3.format(".1f")));
  [xAxis, yAxis].forEach(function(a) {
    a.select(".domain").remove();
    a.selectAll("line").attr("stroke", "#333");
    a.selectAll("text")
      .style("font-family", "'DejaVu Sans', sans-serif")
      .style("font-size", "12px")
      .attr("fill", "#222");
  });

  if (p.col === 0) {
    svg.append("text")
      .attr("transform", "translate(148," + (y0 + ph / 2) + ") rotate(-90)")
      .attr("text-anchor", "middle")
      .style("font-size", "12px")
      .attr("fill", "#222")
      .text("fraction of bees");
  }
  if (p.row > 0) {
    svg.append("text")
      .attr("x", x0 + pw / 2)
      .attr("y", y0 + ph + 30)
      .attr("text-anchor", "middle")
      .style("font-size", "12px")
      .attr("fill", "#222")
      .text("time [min]");
  }

  // legend
  var entries = [];
  if (p.runs) entries.push({ label: "individual run", kind: "line", color: "#7d7d7d" });
  entries.push({ label: "median", kind: "line", color: pal.line });
  entries.push({ label: "IQR", kind: "patch", color: pal.iqr });
  entries.push({ label: "min, max", kind: "patch", color: pal.mm });

  var lw = p.runs ? 106 : 85;
  var lh = entries.length * 15 + 1;
  var lx, ly;
  if (p.legend === "tr") { lx = x0 + pw - 4 - lw; ly = y0 + 5; }
  else if (p.legend === "tl") { lx = x0 + 4; ly = y0 + 5; }
  else { lx = x0 + 98; ly = y0 + 160; }

  var lg = svg.append("g").attr("transform", "translate(" + lx + "," + ly + ")");
  lg.append("rect")
    .attr("x", 0.5).attr("y", 0.5)
    .attr("width", lw).attr("height", lh)
    .attr("rx", 2)
    .attr("fill", "#fff").attr("fill-opacity", 0.85)
    .attr("stroke", "#d4d4d4");

  var row = lg.selectAll(".entry")
    .data(entries)
    .enter().append("g")
    .attr("class", "entry")
    .attr("transform", function(d, i) { return "translate(0," + (8.5 + i * 15) + ")"; });

  row.filter(function(d) { return d.kind === "line"; })
    .append("line")
    .attr("x1", 6).attr("x2", 27)
    .attr("stroke", function(d) { return d.color; })
    .attr("stroke-width", function(d) { return d.label === "median" ? 1.3 : 1; });

  row.filter(function(d) { return d.kind === "patch"; })
    .append("rect")
    .attr("x", 6).attr("y", -4)
    .attr("width", 21).attr("height", 8)
    .attr("fill", function(d) { return d.color; });

  row.append("text")
    .attr("x", 32).attr("y", 3.6)
    .style("font-size", "10px")
    .attr("fill", "#222")
    .text(function(d) { return d.label; });
});

// caption
captionLines.forEach(function(segs, i) {
  var t = svg.append("text")
    .attr("x", 24)
    .attr("y", 968 + i * 25)
    .style("font-family", "'Liberation Sans', Arial, sans-serif")
    .style("font-size", "17px")
    .attr("fill", "#231f20");
  segs.forEach(function(s) {
    t.append("tspan")
      .style("font-weight", s[1] === "b" ? "bold" : null)
      .style("font-style", s[1] === "i" ? "italic" : null)
      .text(s[0]);
  });
  var natural = t.node().getComputedTextLength();
  var target = captionRight[i] ? captionRight[i] - 24 : natural * 0.93;
  t.attr("textLength", target).attr("lengthAdjust", "spacingAndGlyphs");
});
</script>
</body>
</html>
